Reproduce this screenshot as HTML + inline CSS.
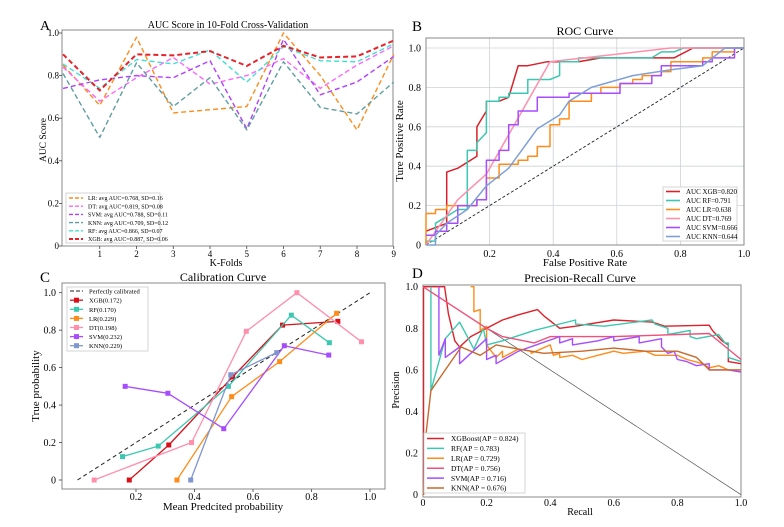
<!DOCTYPE html>
<html><head><meta charset="utf-8">
<style>
html,body{margin:0;padding:0;background:#fff;}
svg{display:block;font-family:"Liberation Serif",serif;}
</style></head>
<body>
<svg id="s" width="784" height="527" viewBox="0 0 784 527" xmlns="http://www.w3.org/2000/svg"></svg>
<script>
const S=document.getElementById('s');let h='';
function T(x,y,t,sz,anc,extra){h+=`<text x="${x}" y="${y}" font-size="${sz}" text-anchor="${anc||'start'}" ${extra||''}>${t}</text>`;}
function L(x1,y1,x2,y2,c,w,d){h+=`<line x1="${x1}" y1="${y1}" x2="${x2}" y2="${y2}" stroke="${c}" stroke-width="${w}" ${d?`stroke-dasharray="${d}"`:''}/>`;}
function P(pts,c,w,d){h+=`<polyline points="${pts.map(p=>p[0].toFixed(1)+','+p[1].toFixed(1)).join(' ')}" fill="none" stroke="${c}" stroke-width="${w}" stroke-linejoin="round" ${d?`stroke-dasharray="${d}"`:''}/>`;}
function R(x,y,w,hh,c,f,sw){h+=`<rect x="${x}" y="${y}" width="${w}" height="${hh}" fill="${f||'none'}" stroke="${c}" stroke-width="${sw||1}"/>`;}

/* ---------- Panel A ---------- */
{const X0=63,DX=36.75,Y0=246,SY=213;
const mx=i=>X0+i*DX,my=v=>Y0-v*SY;
R(62,30,331,216,'#888','none',1);
for(let v=0;v<=1.001;v+=0.2){L(59,my(v),62,my(v),'#444',0.8);T(59,my(v)+3,v==0?'0':v.toFixed(1),9,'end');}
for(let i=1;i<=9;i++){L(mx(i),246,mx(i),249,'#444',0.8);T(mx(i),257,i,9,'middle');}
T(228,28,'AUC Score in 10-Fold Cross-Validation',10,'middle');
T(40,30,'A',14,'start');
T(226,266,'K-Folds',10,'middle');
T(46,140,'AUC Score',9.5,'middle','transform="rotate(-90 46 140)"');
const A=[
['#ff8c1a',[0.85,0.66,0.98,0.625,0.64,0.655,1.0,0.80,0.545,0.90]],
['#ff66ff',[0.84,0.68,0.79,0.885,0.76,0.80,0.88,0.74,0.85,0.94]],
['#b040ff',[0.74,0.78,0.80,0.79,0.87,0.55,0.97,0.71,0.77,0.89]],
['#5f9ea0',[0.81,0.51,0.86,0.655,0.79,0.545,0.865,0.65,0.62,0.77]],
['#40e0d0',[0.855,0.74,0.875,0.855,0.92,0.77,0.935,0.87,0.865,0.95]],
['#e8222a',[0.90,0.73,0.90,0.895,0.915,0.845,0.94,0.885,0.89,0.965]]];
A.forEach((s,k)=>P(s[1].map((v,i)=>[mx(i),my(v)]),s[0],k==5?2:1.4,'5,3'));
R(66,193,94,50,'#ccc','#fff',0.8);
const la=['LR: avg AUC=0.768, SD=0.16','DT: avg AUC=0.819, SD=0.08','SVM: avg AUC=0.788, SD=0.11','KNN: avg AUC=0.709, SD=0.12','RF: avg AUC=0.866, SD=0.07','XGB: avg AUC=0.887, SD=0.06'];
la.forEach((t,i)=>{const y=198+i*8.2;L(69,y,83,y,A[i][0],i==5?2:1.4,'4,2');T(88,y+2.2,t,6,'start');});
}

/* ---------- Panel B ---------- */
{const X0=426,SX=318,Y0=245,SY=197;
const mx=v=>X0+v*SX,my=v=>Y0-v*SY;
for(let v=0.2;v<=1.001;v+=0.2){L(mx(v),38,mx(v),245,'#ccd3d6',0.8);L(426,my(v),744,my(v),'#ccd3d6',0.8);}
R(426,38,318,207,'#888','none',1);
for(let v=0;v<=1.001;v+=0.2){T(421,my(v)+3.5,v==0?'0':v.toFixed(1),10,'end');}
for(let v=0.2;v<=1.001;v+=0.2){T(mx(v),257,v.toFixed(1),10,'middle');}
T(585,35,'ROC Curve',12,'middle');
T(412,31,'B',15,'start');
T(585,266,'False Positive Rate',11,'middle');
T(403,141,'Ture Positive Rate',11,'middle','transform="rotate(-90 403 141)"');
L(mx(0),my(0),mx(1),my(1),'#222',0.9,'3,2');
const B=[
['#d9202a',[[0,0.07],[0.065,0.11],[0.065,0.37],[0.1,0.39],[0.16,0.45],[0.16,0.6],[0.19,0.68],[0.19,0.73],[0.23,0.73],[0.26,0.75],[0.29,0.91],[0.32,0.91],[0.38,0.93],[0.48,0.93],[0.55,0.95],[0.72,0.95],[0.78,0.95],[0.84,1],[1,1]]],
['#3cc8b0',[[0,0],[0,0.02],[0.03,0.02],[0.03,0.11],[0.1,0.18],[0.13,0.18],[0.13,0.48],[0.16,0.48],[0.16,0.52],[0.19,0.57],[0.19,0.73],[0.23,0.73],[0.23,0.75],[0.26,0.75],[0.26,0.77],[0.32,0.77],[0.32,0.84],[0.39,0.84],[0.42,0.86],[0.42,0.93],[0.48,0.93],[0.48,0.95],[0.71,0.95],[0.74,0.98],[0.78,0.98],[0.81,1],[1,1]]],
['#ff8c1a',[[0,0],[0,0.16],[0.03,0.16],[0.03,0.18],[0.065,0.18],[0.065,0.2],[0.16,0.2],[0.16,0.23],[0.19,0.23],[0.19,0.34],[0.23,0.34],[0.23,0.41],[0.29,0.41],[0.29,0.43],[0.32,0.43],[0.32,0.45],[0.35,0.45],[0.35,0.5],[0.39,0.5],[0.39,0.61],[0.42,0.61],[0.42,0.64],[0.45,0.64],[0.45,0.73],[0.52,0.73],[0.52,0.77],[0.55,0.77],[0.55,0.8],[0.61,0.8],[0.61,0.82],[0.65,0.82],[0.65,0.84],[0.68,0.84],[0.68,0.86],[0.74,0.86],[0.74,0.88],[0.77,0.88],[0.77,0.93],[0.87,0.93],[0.87,0.95],[0.9,0.95],[0.9,0.98],[0.97,0.98],[0.97,1],[1,1]]],
['#ff8fab',[[0,0],[0.1,0.23],[0.19,0.36],[0.39,0.93],[0.77,1],[1,1]]],
['#a64dff',[[0,0.05],[0.03,0.05],[0.03,0.07],[0.065,0.07],[0.065,0.11],[0.1,0.11],[0.1,0.2],[0.16,0.2],[0.16,0.23],[0.19,0.23],[0.19,0.43],[0.23,0.43],[0.23,0.48],[0.26,0.48],[0.26,0.61],[0.29,0.61],[0.29,0.68],[0.35,0.68],[0.35,0.75],[0.45,0.75],[0.45,0.77],[0.61,0.77],[0.61,0.82],[0.71,0.82],[0.71,0.86],[0.74,0.86],[0.74,0.91],[0.87,0.91],[0.87,0.93],[0.9,0.93],[0.9,0.95],[0.97,0.95],[0.97,1],[1,1]]],
['#7f9fd6',[[0,0],[0.03,0],[0.03,0.05],[0.065,0.11],[0.13,0.18],[0.19,0.3],[0.26,0.39],[0.35,0.59],[0.42,0.66],[0.45,0.73],[0.52,0.8],[0.65,0.86],[0.77,0.89],[0.87,0.91],[0.94,1],[1,1]]]];
B.forEach(s=>P(s[1].map(p=>[mx(p[0]),my(p[1])]),s[0],1.5));
R(663,187,74,54,'#ccc','#fff',0.8);
const lb=['AUC XGB=0.820','AUC RF=0.791','AUC LR=0.638','AUC DT=0.769','AUC SVM=0.666','AUC KNN=0.644'];
lb.forEach((t,i)=>{const y=191.5+i*9;L(666,y,680,y,B[i][0],1.6);T(686,y+2.5,t,7,'start');});
}

/* ---------- Panel C ---------- */
{const X0=77.5,SX=292.5,Y0=480,SY=187.3;
const mx=v=>X0+v*SX,my=v=>Y0-v*SY;
R(62,283,323,206,'#888','none',1);
for(let v=0;v<=1.001;v+=0.2){L(59,my(v),62,my(v),'#444',0.8);T(56,my(v)+3.5,v==0?'0':v.toFixed(1),10,'end');}
for(let v=0.2;v<=1.001;v+=0.2){L(mx(v),489,mx(v),492,'#444',0.8);T(mx(v),500,v.toFixed(1),10,'middle');}
T(223,281,'Calibration Curve',12,'middle');
T(40,282,'C',15,'start');
T(223,510,'Mean Predcited probability',11,'middle');
T(39,386,'True probability',11,'middle','transform="rotate(-90 39 386)"');
L(mx(0),my(0),mx(1),my(1),'#222',1,'4,3');
const C=[
['#d9101a',[[0.177,0],[0.312,0.187],[0.53,0.55],[0.701,0.827],[0.89,0.847]]],
['#3cc8b0',[[0.154,0.125],[0.276,0.181],[0.516,0.5],[0.731,0.88],[0.861,0.733]]],
['#ff8c1a',[[0.34,0],[0.527,0.445],[0.691,0.632],[0.886,0.89]]],
['#ff8fab',[[0.057,0],[0.39,0.2],[0.577,0.794],[0.75,1.0],[0.971,0.738]]],
['#a64dff',[[0.163,0.5],[0.309,0.463],[0.5,0.274],[0.707,0.717],[0.859,0.667]]],
['#8096cf',[[0.387,0],[0.524,0.562],[0.681,0.68]]]];
C.forEach(s=>{const pts=s[1].map(p=>[mx(p[0]),my(p[1])]);P(pts,s[0],1.3);pts.forEach(p=>h+=`<rect x="${p[0]-2.5}" y="${p[1]-2.5}" width="5" height="5" fill="${s[0]}"/>`);});
R(67,287,81,64,'#ccc','#fff',0.8);
L(70,291,83,291,'#222',1,'4,2');T(89,293.5,'Perfectly calibrated',6.5,'start');
const lc=['XGB(0.172)','RF(0.170)','LR(0.229)','DT(0.198)','SVM(0.232)','KNN(0.229)'];
lc.forEach((t,i)=>{const y=300.2+i*9.1;L(70,y,83,y,C[i][0],1.3);h+=`<rect x="${74}" y="${y-2.5}" width="5" height="5" fill="${C[i][0]}"/>`;T(89,y+2.5,t,6.5,'start');});
}

/* ---------- Panel D ---------- */
{const X0=423,SX=318,Y0=494.7,SY=208;
const mx=v=>X0+v*SX,my=v=>Y0-v*SY;
R(423,285,318,212,'#888','none',1);
for(let v=0;v<=1.001;v+=0.2){T(418,my(v)+3.5,v==0?'0':v.toFixed(1),10,'end');}
for(let v=0;v<=1.001;v+=0.2){T(mx(v),506,v==0?'0':v.toFixed(1),10,'middle');}
T(580,282,'Precision-Recall Curve',12,'middle');
T(412,278,'D',15,'start');
T(580,515,'Recall',10,'middle');
T(399,390,'Precision',10,'middle','transform="rotate(-90 399 390)"');
L(mx(0),my(1),mx(1),my(0),'#555',0.7);
const D=[
['#e0202a',[[0,1],[0.068,1.0],[0.08,0.87],[0.1,0.74],[0.115,0.71],[0.15,0.76],[0.2,0.8],[0.25,0.84],[0.3,0.865],[0.36,0.89],[0.38,0.86],[0.43,0.8],[0.48,0.81],[0.6,0.84],[0.72,0.83],[0.76,0.81],[0.9,0.815],[0.91,0.79],[0.94,0.74],[0.96,0.72],[0.96,0.64],[1,0.63]]],
['#3cc8b0',[[0.025,1.0],[0.025,0.5],[0.07,0.75],[0.115,0.83],[0.16,0.7],[0.19,0.8],[0.2,0.72],[0.25,0.74],[0.35,0.79],[0.48,0.84],[0.48,0.82],[0.57,0.81],[0.72,0.84],[0.73,0.82],[0.77,0.8],[0.77,0.77],[0.84,0.79],[0.84,0.76],[0.86,0.75],[0.93,0.77],[0.95,0.73],[0.96,0.73],[0.96,0.66],[1,0.64]]],
['#ff8c1a',[[0.15,1.0],[0.16,1.0],[0.16,0.88],[0.18,0.89],[0.18,0.79],[0.2,0.81],[0.2,0.72],[0.23,0.66],[0.25,0.69],[0.25,0.66],[0.3,0.7],[0.34,0.69],[0.34,0.68],[0.4,0.72],[0.41,0.67],[0.43,0.68],[0.43,0.66],[0.47,0.67],[0.5,0.65],[0.55,0.67],[0.6,0.69],[0.63,0.68],[0.7,0.69],[0.73,0.67],[0.8,0.67],[0.83,0.65],[0.88,0.63],[0.9,0.61],[0.93,0.62],[0.96,0.6],[1,0.6]]],
['#f0507a',[[0,1],[0.2,0.8],[0.25,0.76],[0.35,0.73],[0.4,0.76],[0.6,0.76],[0.9,0.775],[1,0.65]]],
['#a64dff',[[0.05,1.0],[0.05,0.67],[0.07,0.75],[0.07,0.66],[0.115,0.71],[0.115,0.63],[0.2,0.75],[0.2,0.65],[0.23,0.67],[0.23,0.63],[0.3,0.69],[0.43,0.76],[0.43,0.73],[0.47,0.75],[0.47,0.72],[0.55,0.74],[0.6,0.76],[0.6,0.74],[0.68,0.76],[0.68,0.73],[0.75,0.75],[0.75,0.71],[0.77,0.68],[0.79,0.69],[0.8,0.65],[0.83,0.64],[0.86,0.62],[0.9,0.63],[0.9,0.6],[0.96,0.6],[1,0.59]]],
['#c8692d',[[0.002,0],[0.01,0.3],[0.025,0.5],[0.07,0.6],[0.12,0.71],[0.18,0.67],[0.23,0.72],[0.3,0.7],[0.38,0.68],[0.5,0.69],[0.6,0.705],[0.7,0.69],[0.8,0.69],[0.86,0.66],[0.9,0.6],[1,0.6]]]];
L(mx(0.002),my(0),mx(0.002),my(1),'#e0202a',1.2);
D.forEach(s=>P(s[1].map(p=>[mx(p[0]),my(p[1])]),s[0],1.4));
R(424,433,101,60,'#ccc','#fff',0.8);
const ld=['XGBoost(AP = 0.824)','RF(AP = 0.783)','LR(AP = 0.729)','DT(AP = 0.756)','SVM(AP = 0.716)','KNN(AP = 0.676)'];
ld.forEach((t,i)=>{const y=438.5+i*9.9;L(427,y,444,y,D[i][0],1.5);T(451,y+2.7,t,7.5,'start');});
}
S.innerHTML=h;
</script>
</body></html>
